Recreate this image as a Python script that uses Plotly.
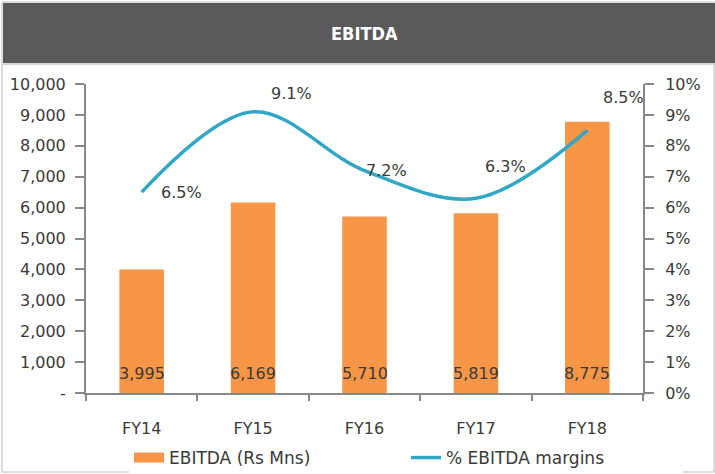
import plotly.graph_objects as go

categories = ["FY14", "FY15", "FY16", "FY17", "FY18"]
ebitda = [3995, 6169, 5710, 5819, 8775]
margins = [6.5, 9.1, 7.2, 6.3, 8.5]
left_ticks = [0, 1000, 2000, 3000, 4000, 5000, 6000, 7000, 8000, 9000, 10000]
left_ticktext = ["-", "1,000", "2,000", "3,000", "4,000", "5,000", "6,000", "7,000", "8,000", "9,000", "10,000"]
right_ticks = [0, 1, 2, 3, 4, 5, 6, 7, 8, 9, 10]
right_ticktext = [f"{v}%" for v in right_ticks]
# label offsets (px) for margin labels
label_shift = [(40, 0), (38, 18), (22, 0), (30, 32), (36, 33)]

W, H = 715, 474
L, R, T, B = 86, 72, 84, 81
pw, ph = W - L - R, H - T - B

def px_x(px):
    return (px - L) / pw

def px_y(py):
    return (H - B - py) / ph

FONT = "DejaVu Sans"
TXT = "#3a3a3a"
ORANGE = "#F79646"
BLUE = "#31A6C5"

fig = go.Figure()
fig.add_trace(go.Bar(
    x=categories, y=ebitda, name="EBITDA (Rs Mns)",
    marker=dict(color=ORANGE, line=dict(width=0)),
    width=0.4, showlegend=False,
))
# legend-only swatch for the bars (wide rectangle like the original)
fig.add_trace(go.Scatter(
    x=[None], y=[None], name="EBITDA (Rs Mns)", mode="lines",
    line=dict(color=ORANGE, width=12),
))
fig.add_trace(go.Scatter(
    x=categories, y=margins, name="% EBITDA margins", yaxis="y2",
    mode="lines", line=dict(color=BLUE, width=3.5, shape="spline", smoothing=1.0),
))

annotations = []
for c, v in zip(categories, ebitda):
    annotations.append(dict(x=c, y=0, xref="x", yref="y", text=f"{v:,}",
                            showarrow=False, yshift=20, yanchor="middle",
                            font=dict(family=FONT, size=16, color=TXT)))
for c, m, (dx, dy) in zip(categories, margins, label_shift):
    annotations.append(dict(x=c, y=m, xref="x", yref="y2", text=f"{m}%",
                            showarrow=False, xshift=dx, yshift=dy,
                            font=dict(family=FONT, size=16, color=TXT)))
annotations.append(dict(x=0.5, y=px_y(33), xref="paper", yref="paper", text="<b>EBITDA</b>",
                        showarrow=False, yanchor="middle", xanchor="center",
                        font=dict(family="DejaVu Sans Condensed, DejaVu Sans", size=18, color="white")))

shapes = [
    dict(type="rect", xref="paper", yref="paper", x0=px_x(2), x1=px_x(714), y0=px_y(472), y1=px_y(2),
         line=dict(color="#d4d4d4", width=1.5), fillcolor="rgba(0,0,0,0)", layer="below"),
    dict(type="rect", xref="paper", yref="paper", x0=px_x(3), x1=px_x(715), y0=px_y(63), y1=px_y(3),
         line=dict(width=0), fillcolor="#5a5a5a", layer="below"),
    dict(type="line", xref="paper", yref="paper", x0=px_x(2), x1=px_x(715), y0=px_y(64), y1=px_y(64),
         line=dict(color="#c8c8c8", width=1.5)),
]

axis_font = dict(family=FONT, size=16, color=TXT)
fig.update_layout(
    width=W, height=H,
    margin=dict(l=L, r=R, t=T, b=B, autoexpand=False),
    paper_bgcolor="white", plot_bgcolor="white",
    showlegend=True,
    legend=dict(orientation="h", x=px_x(129), xanchor="left", y=px_y(458), yanchor="middle",
                font=dict(family=FONT, size=17, color=TXT), entrywidth=232,
                entrywidthmode="pixels", traceorder="normal"),
    xaxis=dict(showline=True, linecolor="#888888", linewidth=2, ticks="outside",
               tickson="boundaries", ticklen=6, tickcolor="#888888", tickwidth=1.5,
               tickfont=axis_font, showgrid=False, range=[-0.5, 4.5], ticklabelstandoff=20),
    yaxis=dict(range=[0, 10000], tickvals=left_ticks, ticktext=left_ticktext,
               showline=True, linecolor="#888888", linewidth=2, ticks="outside",
               ticklen=9, tickcolor="#888888", tickwidth=1.5, tickfont=axis_font,
               showgrid=False, zeroline=False, ticklabelstandoff=6),
    yaxis2=dict(range=[0, 10], tickvals=right_ticks, ticktext=right_ticktext,
                overlaying="y", side="right",
                showline=True, linecolor="#888888", linewidth=2, ticks="outside",
                ticklen=9, tickcolor="#888888", tickwidth=1.5, tickfont=axis_font,
                showgrid=False, zeroline=False, ticklabelstandoff=8),
    annotations=annotations, shapes=shapes,
    font=dict(family=FONT),
)
fig.write_html("out.html", config={"displayModeBar": False},
               post_script="document.body.style.margin='0';document.body.style.overflow='hidden';")
